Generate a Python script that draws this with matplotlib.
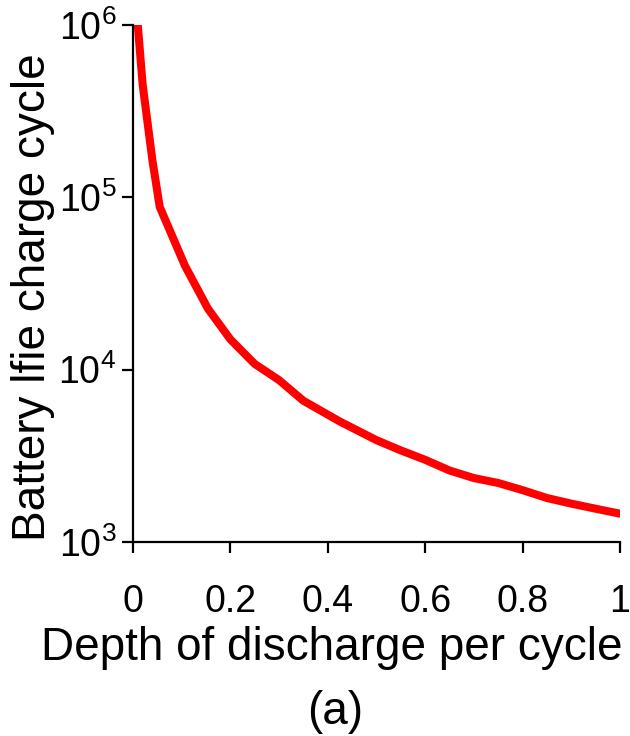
import numpy as np
import matplotlib.pyplot as plt

# Depth of discharge vs battery life (charge cycles)
profundidade = [0.01, 0.02, 0.04, 0.055, 0.107, 0.154, 0.2, 0.25, 0.30, 0.35,
                0.425, 0.5, 0.55, 0.6, 0.65, 0.7, 0.75, 0.8, 0.85, 0.9, 0.95, 1.0]
ciclos = [1.0e6, 4.5e5, 1.64e5, 8.8e4, 4.0e4, 2.26e4, 1.5e4, 1.08e4, 8.7e3, 6.6e3,
          5.0e3, 3.9e3, 3.4e3, 3.0e3, 2.6e3, 2.35e3, 2.2e3, 2.0e3, 1.8e3, 1.67e3, 1.56e3, 1.46e3]

xticks = [0, 0.2, 0.4, 0.6, 0.8, 1]
xtick_labels = ['0', '0.2', '0.4', '0.6', '0.8', '1']

plt.rcParams['font.family'] = ['Liberation Sans', 'DejaVu Sans']
plt.rcParams['mathtext.fontset'] = 'custom'
plt.rcParams['mathtext.rm'] = 'Liberation Sans'

fig = plt.figure(figsize=(6.3, 7.36), dpi=100)
ax = fig.add_axes([0.211, 0.2636, 0.773, 0.7024])

ax.plot(profundidade, ciclos, color='#ff0000', linewidth=5.8,
        solid_capstyle='round', solid_joinstyle='round', clip_on=True)

ax.set_yscale('log')
ax.set_xlim(0, 1)
ax.set_ylim(1e3, 1e6)
ax.set_yticks([1e3, 1e4, 1e5, 1e6])
ax.set_yticklabels([r'$10^3$', r'$10^4$', r'$10^5$', r'$10^6$'])
ax.minorticks_off()
ax.set_xticks(xticks)
ax.set_xticklabels(xtick_labels)

for lado in ['top', 'right']:
    ax.spines[lado].set_visible(False)
for lado in ['left', 'bottom']:
    ax.spines[lado].set_linewidth(1.6)

ax.tick_params(axis='both', direction='out', length=8, width=1.6, labelsize=27, pad=4)
ax.tick_params(axis='x', pad=22)

ax.set_xlabel('Depth of discharge per cycle', fontsize=33, loc='right')
ax.xaxis.set_label_coords(1.005, -0.163)
ax.set_ylabel('Battery lfie charge cycle', fontsize=33)
ax.yaxis.set_label_coords(-0.160, 0.473)

fig.text(0.532, 0.033, '(a)', fontsize=33, ha='center', va='center')

fig.savefig('out.png', dpi=100)
